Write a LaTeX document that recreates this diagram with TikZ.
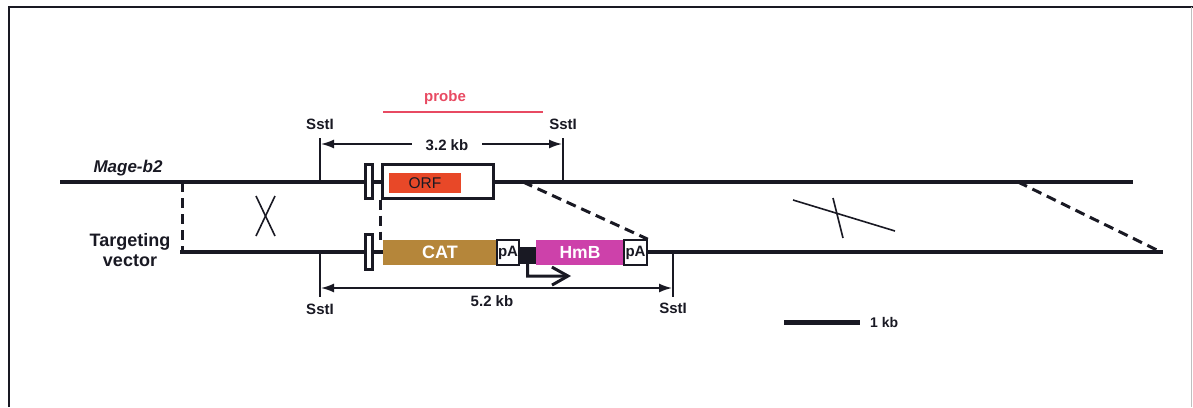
\documentclass[tikz,border=0pt]{standalone}
\usepackage{fontspec}
\setmainfont{Liberation Sans}
\usetikzlibrary{arrows.meta}
\definecolor{ink}{RGB}{25,25,35}
\definecolor{catc}{RGB}{181,134,58}
\definecolor{hmbc}{RGB}{205,65,170}
\definecolor{orfc}{RGB}{232,72,40}
\definecolor{probec}{RGB}{232,74,98}
\begin{document}
\begin{tikzpicture}[x=1pt,y=-1pt,
  every node/.style={text=ink},
  lbl/.style={font=\bfseries\fontsize{15}{18}\selectfont, inner sep=0pt},
  dna/.style={draw=ink, line width=4.2pt},
  thin/.style={draw=ink, line width=1.6pt},
  dsh/.style={draw=ink, line width=3pt, dash pattern=on 10pt off 6pt},
  exon/.style={draw=ink, fill=white, line width=3pt, minimum width=7pt, inner sep=0pt},
  gbox/.style={inner sep=0pt, minimum height=25pt},
  pabox/.style={draw=ink, fill=white, line width=1.6pt, inner sep=0pt, minimum height=25pt,
    font=\bfseries\fontsize{15}{18}\selectfont},
  dim/.style={draw=ink, line width=1.6pt, {Latex[length=13pt,width=9pt]}-{Latex[length=13pt,width=9pt]}}
]
\useasboundingbox (0,0) rectangle (1193,407);
% frame
\draw[ink, line width=2.5pt] (9,407) -- (9,7) -- (1193,7);
\draw[black!25, line width=1pt] (1191,7) -- (1191,407);

% coordinates on the lines
\coordinate (tl) at (60,182);
\coordinate (tr) at (1133,182);
\coordinate (bl) at (180,252);
\coordinate (br) at (1163,252);
\coordinate (tdl) at (182,182);
\coordinate (bdl) at (182,252);
\coordinate (tdr) at (1018,182);
\coordinate (bdr) at (1161,252);
\coordinate (tdm) at (523,182);

% main lines
\draw[dna] (tl) -- (tr);
\draw[dna] (bl) -- (br);

% labels on the left
\node[font=\bfseries\itshape\fontsize{17}{20}\selectfont, inner sep=0pt] (mage) at (128,168) {Mage-b2};
\node[font=\bfseries\fontsize{18}{20}\selectfont, align=center, inner sep=0pt] (tv) at (130,250) {Targeting\\vector};

% left dashed and X
\draw[dsh] (tdl) -- (bdl);
\coordinate (xa) at (256,196); \coordinate (xb) at (275,236);
\coordinate (xc) at (275,196); \coordinate (xd) at (256,236);
\draw[thin] (xa) -- (xb);
\draw[thin] (xc) -- (xd);

% right X and dashed
\coordinate (ya) at (793,200); \coordinate (yb) at (895,231);
\coordinate (yc) at (833,198); \coordinate (yd) at (843,238);
\draw[thin] (ya) -- (yb);
\draw[thin] (yc) -- (yd);
\draw[dsh] (tdr) -- (bdr);

% upper locus
\node[exon, minimum height=34pt] (ex1) at (368.5,181) {};
\node[draw=ink, fill=white, line width=3pt, minimum width=111pt, minimum height=34pt, inner sep=0pt] (gene) at (437.5,181) {};
\node[fill=orfc, minimum width=72pt, minimum height=20pt, inner sep=0pt, font=\fontsize{15.5}{18}\selectfont] (orf) at (425,183) {ORF};

% probe
\node[font=\bfseries\fontsize{15}{18}\selectfont, text=probec, inner sep=0pt] (probe) at (445,98) {probe};
\coordinate (pl) at (383,112); \coordinate (pr) at (543,112);
\draw[probec, line width=2.5pt] (pl) -- (pr);

% SstI sites, top
\node[lbl] (s1) at (320,124) {SstI};
\node[lbl] (s2) at (563,124) {SstI};
\coordinate (s1a) at (320,138); \coordinate (s1b) at (320,182);
\coordinate (s2a) at (563,138); \coordinate (s2b) at (563,182);
\draw[thin] (s1a) -- (s1b);
\draw[thin] (s2a) -- (s2b);
\coordinate (d1a) at (321,144); \coordinate (d1b) at (562,144);
\draw[dim] (d1a) -- (d1b);
\node[lbl, fill=white, inner xsep=14pt, inner ysep=2pt] (kb32) at (447,145) {3.2 kb};

% lower construct
\node[exon, minimum height=35pt] (ex2) at (368.5,251.5) {};
\node[gbox, fill=catc, minimum width=114pt, text=white, font=\bfseries\fontsize{18}{20}\selectfont] (cat) at (440,252.5) {CAT};
\node[pabox, minimum width=22pt] (pa1) at (508,252.5) {pA};
\node[fill=ink, minimum width=17pt, minimum height=17pt, inner sep=0pt] (prom) at (527.5,255.5) {};
\node[gbox, fill=hmbc, minimum width=88pt, text=white, font=\bfseries\fontsize{17.5}{20}\selectfont] (hmb) at (580,252.5) {HmB};
\node[pabox, minimum width=23pt] (pa2) at (635.5,252.5) {pA};

% promoter arrow
\coordinate (pt) at (571,276);
\draw[ink, line width=3pt, -{Straight Barb[length=16pt,width=18pt]}] (prom.south) -- ++(0,12) -- (pt);

% dashed homology connectors
\draw[dsh] (tdm) -- (pa2.north east);
\draw[dsh] (gene.south west) -- (gene.south west |- cat.north);

% SstI sites, bottom
\node[lbl] (s3) at (320,309) {SstI};
\node[lbl] (s4) at (673,308) {SstI};
\coordinate (s3a) at (320,252); \coordinate (s3b) at (320,297);
\coordinate (s4a) at (673,252); \coordinate (s4b) at (673,297);
\draw[thin] (s3a) -- (s3b);
\draw[thin] (s4a) -- (s4b);
\coordinate (d2a) at (321,288); \coordinate (d2b) at (672,288);
\draw[dim] (d2a) -- (d2b);
\node[lbl] (kb52) at (492,301) {5.2 kb};

% scale bar
\coordinate (sba) at (784,322); \coordinate (sbb) at (860,322);
\draw[ink, line width=5pt] (sba) -- (sbb);
\node[lbl, anchor=west, font=\bfseries\fontsize{14}{16}\selectfont] (kb1) at (870,322) {1 kb};
\end{tikzpicture}
\end{document}
